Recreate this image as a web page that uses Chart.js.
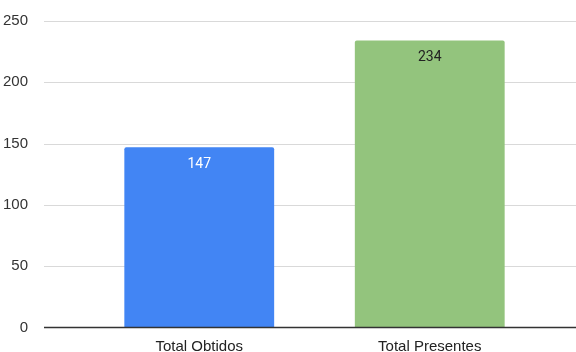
<!DOCTYPE html>
<html>
<head>
<meta charset="utf-8">
<script src="https://cdn.jsdelivr.net/npm/chart.js@4"></script>
<style>
  html, body { margin: 0; padding: 0; background: #fff; overflow: hidden; }
  canvas { display: block; }
</style>
</head>
<body>
<canvas id="myChart" width="576" height="352"></canvas>
<script>
var categories = ["Total Obtidos", "Total Presentes"];
var totals = [147, 234];
var barColors = ["#4285f4", "#93c47d"];
var labelColors = ["#ffffff", "#222222"];
var yTicks = [0, 50, 100, 150, 200, 250];

// horizontal grid runs wider than the plot area, so draw it by hand
var gridPlugin = {
  id: "wideGrid",
  beforeDatasetsDraw: function(chart) {
    var ctx = chart.ctx, y = chart.scales.y;
    ctx.save();
    ctx.strokeStyle = "#d9d9d9";
    ctx.lineWidth = 1;
    y.ticks.forEach(function(t) {
      if (t.value === 0) return;
      var py = Math.round(y.getPixelForValue(t.value)) + 0.5;
      ctx.beginPath();
      ctx.moveTo(44, py);
      ctx.lineTo(chart.width, py);
      ctx.stroke();
    });
    ctx.restore();
  },
  afterDatasetsDraw: function(chart) {
    var ctx = chart.ctx, y = chart.scales.y;
    ctx.save();
    var py = y.getPixelForValue(0);
    ctx.strokeStyle = "#333333";
    ctx.lineWidth = 1.5;
    ctx.beginPath();
    ctx.moveTo(44, py);
    ctx.lineTo(chart.width, py);
    ctx.stroke();

    // value labels just inside the top of each bar
    ctx.font = "14px Roboto";
    ctx.textAlign = "center";
    ctx.textBaseline = "middle";
    chart.getDatasetMeta(0).data.forEach(function(bar, i) {
      ctx.fillStyle = labelColors[i];
      ctx.fillText(String(totals[i]), bar.x, bar.y + 17);
    });
    ctx.restore();
  }
};

var ctx = document.getElementById("myChart").getContext("2d");
var chart = new Chart(ctx, {
  type: "bar",
  data: {
    labels: categories,
    datasets: [{
      data: totals,
      backgroundColor: barColors,
      borderRadius: { topLeft: 2, topRight: 2 },
      borderSkipped: "bottom",
      categoryPercentage: 1,
      barPercentage: 0.65
    }]
  },
  options: {
    responsive: false,
    animation: false,
    layout: { padding: { top: 21, right: 31, left: 0, bottom: 0 } },
    plugins: { legend: { display: false }, tooltip: { enabled: false } },
    scales: {
      x: {
        grid: { display: false },
        border: { display: false },
        ticks: { color: "#222", font: { family: "Liberation Sans, Arial", size: 15 }, padding: 2 },
        afterFit: function(s) { s.height = 24.5; }
      },
      y: {
        min: 0,
        max: 250,
        afterBuildTicks: function(s) { s.ticks = yTicks.map(function(v) { return { value: v }; }); },
        grid: { display: false },
        border: { display: false },
        ticks: { color: "#333", font: { family: "Liberation Sans, Arial", size: 15 }, padding: 48 },
        afterFit: function(s) {
          s.width = 84;
          s.paddingTop = 0;
          s.paddingBottom = 0;
        }
      }
    }
  },
  plugins: [gridPlugin]
});
</script>
</body>
</html>
